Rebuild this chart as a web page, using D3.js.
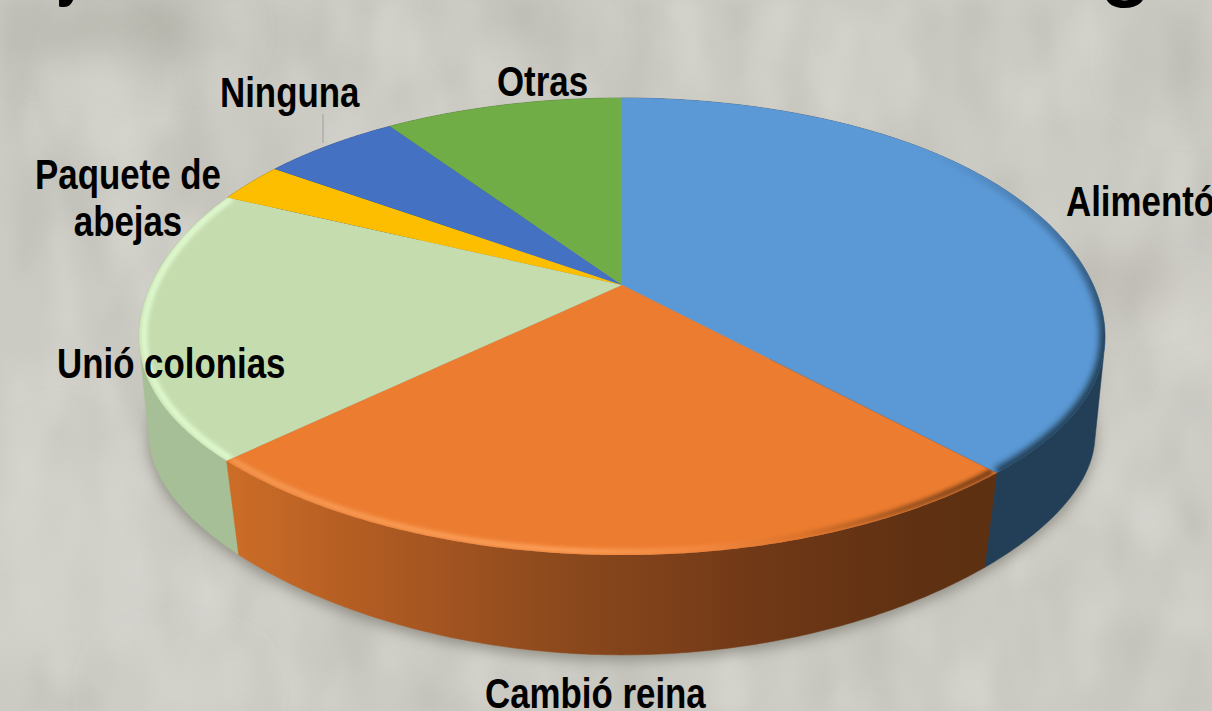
<!DOCTYPE html>
<html><head><meta charset="utf-8">
<script src="https://cdnjs.cloudflare.com/ajax/libs/d3/7.8.5/d3.min.js"></script>
<style>html,body{margin:0;padding:0;background:#cbcac3;overflow:hidden}svg{display:block}
text{font-family:"Liberation Sans",Arial,sans-serif;font-weight:700;fill:#000}</style>
</head><body><div id="c"></div>
<script>
const categories = ["Alimentó","Cambió reina","Unió colonias","Paquete de abejas","Ninguna","Otras"];
const values = [38,25,19.3,2.7,5.5,9.5];
const topColors = ["#5b99d6","#ec7c30","#c5dcae","#fdbe00","#4471c2","#70ad47"];
const sideColors = ["#233f57","#8a4a1c","#a6bf97","#a07800","#2c4a80","#4a7030"];
const W=1212,H=711;
const cx=622,cy=285,A=475,B=221,k=0.1817;
const depthY=109,scaleX=0.979,scaleY=0.96,midY=326.5,egg=10,pinch=0.03,lift=7;

const svg=d3.select("#c").append("svg").attr("width",W).attr("height",H);
const defs=svg.append("defs");

const tf=defs.append("filter").attr("id","tex").attr("filterUnits","userSpaceOnUse").attr("x",0).attr("y",0).attr("width",W).attr("height",H);
tf.append("feTurbulence").attr("type","fractalNoise").attr("baseFrequency","0.018 0.008").attr("numOctaves",3).attr("seed",11);
tf.append("feColorMatrix").attr("type","matrix").attr("values","0 0 0 0 0.42  0 0 0 0 0.42  0 0 0 0 0.38  2.4 0 0 0 -0.95");
tf.append("feGaussianBlur").attr("stdDeviation",6);
const tl=defs.append("filter").attr("id","texL").attr("filterUnits","userSpaceOnUse").attr("x",0).attr("y",0).attr("width",W).attr("height",H);
tl.append("feTurbulence").attr("type","fractalNoise").attr("baseFrequency","0.02 0.009").attr("numOctaves",3).attr("seed",29);
tl.append("feColorMatrix").attr("type","matrix").attr("values","0 0 0 0 0.95  0 0 0 0 0.94  0 0 0 0 0.9  2.4 0 0 0 -0.95");
tl.append("feGaussianBlur").attr("stdDeviation",6);
const bl=(id,s)=>defs.append("filter").attr("id",id).attr("filterUnits","userSpaceOnUse").attr("x",-300).attr("y",-300).attr("width",W+600).attr("height",H+600).append("feGaussianBlur").attr("stdDeviation",s);
bl("b30",26);bl("b7",7);bl("b3",3.2);bl("b2",2);

svg.append("rect").attr("width",W).attr("height",H).attr("fill","#cbcac3");
svg.append("rect").attr("width",W).attr("height",H).attr("filter","url(#tex)").attr("opacity",0.32);
svg.append("rect").attr("width",W).attr("height",H).attr("filter","url(#texL)").attr("opacity",0.24);
const blobs=[[120,30,110,30,"#a5a49a",.6],[100,85,24,40,"#e6e5de",.7],[520,20,60,20,"#aaa9a0",.5],
 [60,560,90,120,"#d8d7d0",.5],[1190,330,14,60,"#e8e7e0",.8],[1130,280,60,18,"#aca69e",.7],[180,690,60,30,"#dcdbd4",.6],[1180,60,40,40,"#b8b7ae",.5]];
svg.append("g").selectAll("ellipse").data(blobs).join("ellipse")
 .attr("cx",d=>d[0]).attr("cy",d=>d[1]).attr("rx",d=>d[2]).attr("ry",d=>d[3]).attr("fill",d=>d[4]).attr("opacity",d=>d[5]).attr("filter","url(#b30)");

function proj(a,r=1,level=0){
  const X=r*Math.sin(a),Y=r*Math.cos(a),w=1+k*Y;   // a clockwise from top, Y>0 = back
  const x=A*X/w, y=-B*Y/w;
  const py=cy+y;
  const t=(py-midY)/229;
  if(level){
    const low=Math.max(0,t);
    return [cx+x*scaleX*(1-pinch*low*low), midY+depthY+(py-midY)*scaleY-lift*4*low*(1-low)];
  }
  const f=1-t*t;
  return [cx+x, py+r*egg*f*f*f];
}
const apex=()=>proj(0,0);
const pieGen=d3.pie().sort(null).value(d=>d);
const arcs=pieGen(values);
const line=d3.line();
const arcPts=(a0,a1,r=1,level=0)=>{const n=Math.max(2,Math.ceil((a1-a0)/0.01));return d3.range(n+1).map(i=>proj(a0+(a1-a0)*i/n,r,level));};
const facePts=d=>[apex()].concat(arcPts(d.startAngle,d.endAngle));

const outline=arcPts(0,2*Math.PI,1,1);
svg.append("path").attr("d",line(outline)+"Z").attr("fill","#6f6e64").attr("opacity",.65).attr("filter","url(#b7)").attr("transform","translate(0,5)");

const grad=defs.append("linearGradient").attr("id","sideO").attr("gradientUnits","userSpaceOnUse").attr("x1",230).attr("x2",990).attr("y1",0).attr("y2",0);
[[0,"#cc6d27"],[.2,"#ae5a22"],[.45,"#8a481c"],[.7,"#703817"],[.9,"#5f3112"],[1,"#5e3012"]].forEach(s=>grad.append("stop").attr("offset",s[0]).attr("stop-color",s[1]));

// walls: hull closes the straight silhouette; the front wedge is raised over its neighbours
const walls=svg.append("g").selectAll("path").data(arcs).join("path")
 .attr("d",(d,i)=>{
   const top=arcPts(d.startAngle,d.endAngle), bot=arcPts(d.startAngle,d.endAngle,1,1);
   return (i===1?line(top.concat(bot.reverse())):line(d3.polygonHull(top.concat(bot))))+"Z";
 })
 .attr("fill",(d,i)=>i===1?"url(#sideO)":sideColors[i])
 .attr("stroke",(d,i)=>i===1?"url(#sideO)":sideColors[i]).attr("stroke-width",.5);
walls.filter((d,i)=>i===1).raise();

svg.append("g").selectAll("path").data(arcs).join("path")
 .attr("d",d=>line(facePts(d))+"Z")
 .attr("fill",(d,i)=>topColors[i]);

["faceB","faceO","faceG"].forEach((id,i)=>defs.append("clipPath").attr("id",id).append("path").attr("d",line(facePts(arcs[i]))+"Z"));
const gO=defs.append("linearGradient").attr("id","rimO").attr("gradientUnits","userSpaceOnUse").attr("x1",230).attr("x2",998).attr("y1",0).attr("y2",0);
[[0,"#f69a55"],[.45,"#ffa45e"],[.62,"#f28a42"],[.74,"#d97128"],[.88,"#8e4c1d"],[1,"#5e3012"]].forEach(s=>gO.append("stop").attr("offset",s[0]).attr("stop-color",s[1]));
const gB=defs.append("linearGradient").attr("id","rimB").attr("gradientUnits","userSpaceOnUse").attr("x1",0).attr("x2",0).attr("y1",150).attr("y2",340);
[[0,"#5b99d6"],[.45,"#3f6e9c"],[1,"#233f57"]].forEach(s=>gB.append("stop").attr("offset",s[0]).attr("stop-color",s[1]));
svg.append("g").attr("clip-path","url(#faceB)").append("path").attr("d",line(arcPts(arcs[0].startAngle,arcs[0].endAngle,1)))
 .attr("fill","none").attr("stroke","url(#rimB)").attr("stroke-width",11).attr("filter","url(#b3)");
svg.append("g").attr("clip-path","url(#faceO)").append("path").attr("d",line(arcPts(arcs[1].startAngle,arcs[1].endAngle,.99)))
 .attr("fill","none").attr("stroke","url(#rimO)").attr("stroke-width",5).attr("filter","url(#b2)");
svg.append("g").attr("clip-path","url(#faceG)").append("path").attr("d",line(arcPts(arcs[2].startAngle,arcs[2].endAngle,.99)))
 .attr("fill","none").attr("stroke","#e0fbd0").attr("stroke-width",6).attr("filter","url(#b2)");

svg.append("line").attr("x1",323).attr("x2",323).attr("y1",114).attr("y2",143).attr("stroke","#a5a5a3").attr("stroke-width",1.2);

const fs=42, sx=0.83;
const labels=[[[categories[0]],1066,216],[[categories[1]],485,708],[[categories[2]],57,378],
 [["Paquete de","abejas"],128,189],[[categories[4]],220,107],[[categories[5]],497,96]];
labels.forEach((l,i)=>{
  const t=svg.append("text").attr("font-size",fs).attr("transform",`translate(${l[1]},${l[2]}) scale(${sx},1)`)
   .attr("text-anchor",i===3?"middle":"start");
  l[0].forEach((s,j)=>t.append("tspan").attr("x",0).attr("y",j*47).text(s));
});

svg.append("text").attr("font-size",84).attr("transform","translate(56,-10) scale(.7,1)").text("y");
svg.append("text").attr("x",1100).attr("y",-9).attr("font-size",84).text("g");
</script></body></html>
